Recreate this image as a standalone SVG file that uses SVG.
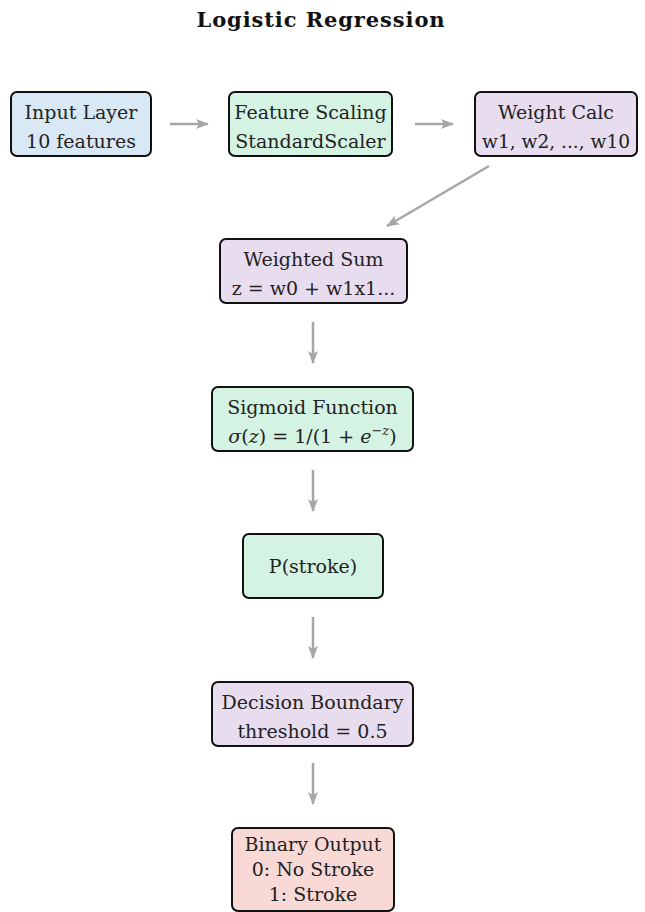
<svg xmlns="http://www.w3.org/2000/svg" width="645" height="912" viewBox="0 0 645 912">
<defs>
<marker id="ah" markerWidth="14" markerHeight="14" refX="12" refY="7" orient="auto" markerUnits="userSpaceOnUse">
<path d="M0,2 L13,7 L0,12 L3,7 Z" fill="#a6a6a6"/>
</marker>
<style>
.box{stroke:#111;stroke-width:2}
.blue{fill:#d9e8f5}
.green{fill:#d4f3e3}
.purple{fill:#e8dcef}
.red{fill:#f9d9d6}
text{font-family:"DejaVu Serif","Liberation Serif",serif;font-size:19px;fill:#222;text-anchor:middle}
.title{font-size:21px;font-weight:bold;letter-spacing:0.9px;fill:#111}
.conn line{stroke:#a6a6a6;stroke-width:2.5;marker-end:url(#ah)}
</style>
</defs>
<rect width="645" height="912" fill="#fff"/>
<text class="title" x="321" y="27">Logistic Regression</text>
<g class="conn">
<line x1="170" y1="124" x2="208" y2="124"/>
<line x1="415" y1="124" x2="453" y2="124"/>
<line x1="489" y1="166" x2="387" y2="226"/>
<line x1="313" y1="322" x2="313" y2="363"/>
<line x1="313" y1="470" x2="313" y2="511"/>
<line x1="313" y1="617" x2="313" y2="658"/>
<line x1="313" y1="763" x2="313" y2="804"/>
</g>
<g id="input">
<rect class="box blue" x="11" y="92" width="140" height="64" rx="6"/>
<text x="81" y="119">Input Layer</text>
<text x="81" y="148">10 features</text>
</g>
<g id="scaling">
<rect class="box green" x="229" y="92" width="163" height="64" rx="6"/>
<text x="310.5" y="119">Feature Scaling</text>
<text x="310.5" y="148">StandardScaler</text>
</g>
<g id="weights">
<rect class="box purple" x="475" y="92" width="162" height="64" rx="6"/>
<text x="556" y="119">Weight Calc</text>
<text x="556" y="148" textLength="148" lengthAdjust="spacingAndGlyphs">w1, w2, ..., w10</text>
</g>
<g id="wsum">
<rect class="box purple" x="220" y="239" width="187" height="64" rx="6"/>
<text x="313.5" y="266">Weighted Sum</text>
<text x="313.5" y="295">z = w0 + w1x1...</text>
</g>
<g id="sigmoid">
<rect class="box green" x="212" y="387" width="201" height="64" rx="6"/>
<text x="312.5" y="414">Sigmoid Function</text>
<text x="312.5" y="443"><tspan font-style="italic">σ</tspan>(<tspan font-style="italic">z</tspan>) = 1/(1 + <tspan font-style="italic">e</tspan><tspan font-size="13" dy="-8">−<tspan font-style="italic">z</tspan></tspan><tspan dy="8">)</tspan></text>
</g>
<g id="prob">
<rect class="box green" x="243" y="534" width="140" height="64" rx="6"/>
<text x="313" y="573">P(stroke)</text>
</g>
<g id="decision">
<rect class="box purple" x="212" y="682" width="201" height="64" rx="6"/>
<text x="312.5" y="709">Decision Boundary</text>
<text x="312.5" y="738">threshold = 0.5</text>
</g>
<g id="output">
<rect class="box red" x="232" y="828" width="162" height="83" rx="6"/>
<text x="313" y="851">Binary Output</text>
<text x="313" y="876">0: No Stroke</text>
<text x="313" y="901">1: Stroke</text>
</g>
</svg>
